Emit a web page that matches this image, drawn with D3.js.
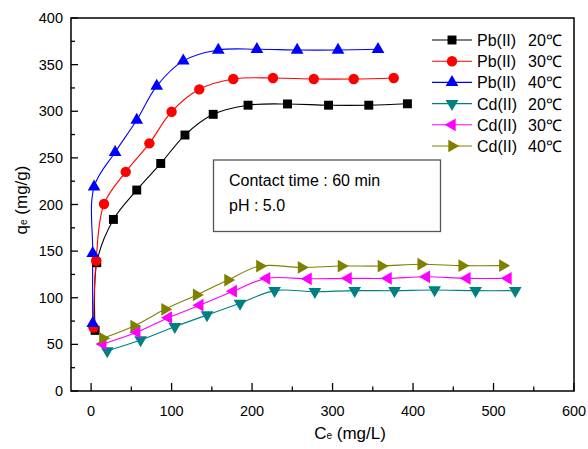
<!DOCTYPE html>
<html>
<head>
<meta charset="utf-8">
<script src="https://cdn.jsdelivr.net/npm/d3@7"></script>
<style>
  body { margin: 0; background: #fff; }
  text { font-family: Arial, "Liberation Sans", sans-serif; fill: #000; }
</style>
</head>
<body>
<script>
const WIDTH = 588;
const HEIGHT = 449;

// Data (Ce in mg/L, qe in mg/g).
const pb20_x = [5, 7, 27.7, 56.7, 86.5, 116.6, 151.7, 195, 244, 295, 345, 393];
const pb20_y = [65, 137.6, 184, 215.5, 244, 274.5, 296.7, 306.5, 307.8, 306.5, 306.5, 308];
const pb30_x = [2.9, 6.2, 16, 43, 72.4, 100, 134.4, 176.6, 226, 276.7, 326.3, 376];
const pb30_y = [68, 139.7, 200.5, 235, 265.6, 299.5, 323.5, 334.6, 335.7, 334.6, 334.6, 335.7];
const pb40_x = [2, 2, 3.7, 29.8, 56.7, 81.5, 114.5, 158, 206, 256, 306.8, 356.5];
const pb40_y = [72.6, 147.6, 219, 256, 290.6, 327, 354, 365.7, 366.5, 365.7, 365.7, 366.5];
const cd20_x = [20, 61.5, 104, 144, 185, 228, 278, 327.5, 377, 426.8, 477.7, 527];
const cd20_y = [43, 54.7, 69, 81.5, 94, 107.6, 106.5, 107.6, 107.6, 108.3, 107.6, 107.6];
const cd30_x = [14.5, 56.7, 95.9, 135, 176.6, 218, 269.6, 319.3, 369, 416.5, 467, 518];
const cd30_y = [50.4, 63, 78.6, 92, 107, 120.8, 120.3, 120.8, 120.8, 122.5, 120.8, 120.8];
const cd40_x = [14.5, 53.3, 91.8, 131, 170, 209.7, 261.4, 311, 360.6, 410, 461, 511.5];
const cd40_y = [56.5, 69.7, 87.6, 103, 119, 134, 132.5, 134, 134, 136, 134.4, 134.4];

const series_ion = ['Pb(II)', 'Pb(II)', 'Pb(II)', 'Cd(II)', 'Cd(II)', 'Cd(II)'];
const series_temp = ['20℃', '30℃', '40℃', '20℃', '30℃', '40℃'];
const x_ticks = [0, 100, 200, 300, 400, 500, 600];
const y_ticks = [0, 50, 100, 150, 200, 250, 300, 350, 400];
const note_lines = ['Contact time : 60 min', 'pH : 5.0'];

const series = [
    { xs: pb20_x, ys: pb20_y, color: '#000000', shape: 'square' },
    { xs: pb30_x, ys: pb30_y, color: '#ff0000', shape: 'circle' },
    { xs: pb40_x, ys: pb40_y, color: '#0000ff', shape: 'up' },
    { xs: cd20_x, ys: cd20_y, color: '#008080', shape: 'down' },
    { xs: cd30_x, ys: cd30_y, color: '#ff00ff', shape: 'left' },
    { xs: cd40_x, ys: cd40_y, color: '#808000', shape: 'right' },
];

const X0 = 71, X1 = 574, Y0 = 391, Y1 = 18;
const x = d3.scaleLinear().domain([-25, 600]).range([X0, X1]);
const y = d3.scaleLinear().domain([0, 400]).range([Y0, Y1]);

const svg = d3.select('body').append('svg')
    .attr('width', WIDTH)
    .attr('height', HEIGHT);

// marker shapes
const SYMBOLS = {
    square: { type: d3.symbolSquare, size: 80, rot: 0 },
    circle: { type: d3.symbolCircle, size: 85, rot: 0 },
    up: { type: d3.symbolTriangle, size: 70, rot: 0 },
    down: { type: d3.symbolTriangle, size: 70, rot: 180 },
    left: { type: d3.symbolTriangle, size: 70, rot: -90 },
    right: { type: d3.symbolTriangle, size: 70, rot: 90 },
};
function marker(sel, shape, color) {
    const s = SYMBOLS[shape];
    sel.attr('d', d3.symbol().type(s.type).size(s.size)())
        .attr('fill', color);
    return s.rot;
}

// lines + markers
const line = d3.line()
    .x(d => x(d[0]))
    .y(d => y(d[1]))
    .curve(d3.curveCatmullRom.alpha(0.5));

const plot = svg.append('g');
series.forEach(s => {
    const pts = s.xs.map((v, i) => [v, s.ys[i]]);
    plot.append('path')
        .attr('d', line(pts))
        .attr('fill', 'none')
        .attr('stroke', s.color)
        .attr('stroke-width', 1.1);
});
series.forEach(s => {
    const pts = s.xs.map((v, i) => [v, s.ys[i]]);
    plot.selectAll(null).data(pts).enter()
        .append('path')
        .each(function(d) {
            const rot = marker(d3.select(this), s.shape, s.color);
            d3.select(this).attr('transform', `translate(${x(d[0])},${y(d[1])}) rotate(${rot})`);
        });
});

// frame
svg.append('rect')
    .attr('x', X0).attr('y', Y1)
    .attr('width', X1 - X0).attr('height', Y0 - Y1)
    .attr('fill', 'none')
    .attr('stroke', '#000')
    .attr('stroke-width', 1.5);

// x axis, ticks pointing inward
const xAxis = svg.append('g');
d3.range(0, 601, 50).forEach(v => {
    const major = v % 100 === 0;
    xAxis.append('line')
        .attr('x1', x(v)).attr('x2', x(v))
        .attr('y1', Y0).attr('y2', Y0 - (major ? 8 : 4.5))
        .attr('stroke', '#000').attr('stroke-width', 1.3);
});
xAxis.selectAll('text').data(x_ticks).enter().append('text')
    .attr('x', d => x(d)).attr('y', 416)
    .attr('text-anchor', 'middle')
    .attr('font-size', 14.5)
    .text(d => d);

// y axis
const yAxis = svg.append('g');
d3.range(0, 401, 25).forEach(v => {
    const major = v % 50 === 0;
    yAxis.append('line')
        .attr('x1', X0).attr('x2', X0 + (major ? 7 : 4))
        .attr('y1', y(v)).attr('y2', y(v))
        .attr('stroke', '#000').attr('stroke-width', 1.3);
});
yAxis.selectAll('text').data(y_ticks).enter().append('text')
    .attr('x', 63).attr('y', d => y(d) + 5)
    .attr('text-anchor', 'end')
    .attr('font-size', 14.5)
    .text(d => d);

// axis titles
const xt = svg.append('text')
    .attr('x', 350).attr('y', 439)
    .attr('text-anchor', 'middle')
    .attr('font-size', 17);
xt.append('tspan').text('C');
xt.append('tspan').attr('font-size', 10).text('e');
xt.append('tspan').text(' (mg/L)');

const yt = svg.append('text')
    .attr('transform', 'translate(27,200) rotate(-90)')
    .attr('text-anchor', 'middle')
    .attr('font-size', 17);
yt.append('tspan').text('q');
yt.append('tspan').attr('font-size', 10).text('e');
yt.append('tspan').text(' (mg/g)');

// legend
const legend = svg.append('g');
series.forEach((s, i) => {
    const ly = 40 + i * 21.2;
    legend.append('line')
        .attr('x1', 432).attr('x2', 472)
        .attr('y1', ly).attr('y2', ly)
        .attr('stroke', s.color).attr('stroke-width', 1.1);
    const m = legend.append('path');
    const rot = marker(m, s.shape, s.color);
    m.attr('transform', `translate(452,${ly}) rotate(${rot})`);
    legend.append('text')
        .attr('x', 477).attr('y', ly + 6)
        .attr('font-size', 16)
        .text(series_ion[i]);
    legend.append('text')
        .attr('x', 528).attr('y', ly + 6)
        .attr('font-size', 16)
        .text(series_temp[i]);
});

// annotation box
svg.append('rect')
    .attr('x', 213.5).attr('y', 160)
    .attr('width', 227).attr('height', 71.5)
    .attr('fill', '#fff')
    .attr('stroke', '#555')
    .attr('stroke-width', 1.3);
svg.selectAll('.note').data(note_lines).enter().append('text')
    .attr('class', 'note')
    .attr('x', 229).attr('y', (d, i) => 186 + i * 24.5)
    .attr('font-size', 16)
    .text(d => d);
</script>
</body>
</html>
